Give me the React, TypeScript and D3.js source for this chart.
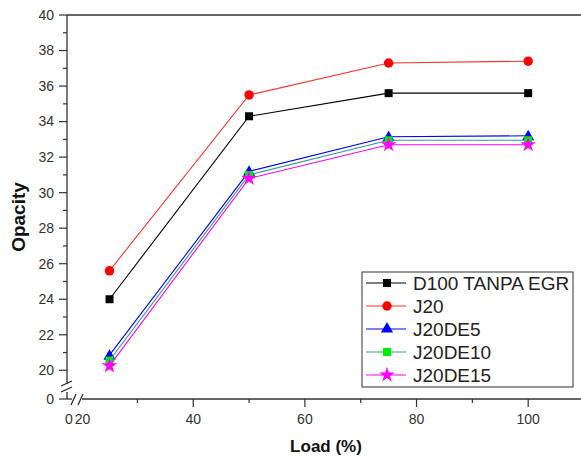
import React from "react";
import * as d3 from "d3";

const loads = [25, 50, 75, 100];
const seriesNames = ["D100 TANPA EGR", "J20", "J20DE5", "J20DE10", "J20DE15"];
const d100 = [24.0, 34.3, 35.6, 35.6];
const j20 = [25.6, 35.5, 37.3, 37.4];
const j20de5 = [20.85, 31.2, 33.15, 33.2];
const j20de10 = [20.55, 31.0, 32.95, 32.95];
const j20de15 = [20.25, 30.8, 32.7, 32.7];
const xMajorTicks = [40, 60, 80, 100];
const xMinorTicks = [30, 50, 70, 90, 110];
const yMajorTicks = [20, 22, 24, 26, 28, 30, 32, 34, 36, 38, 40];
const yMinorTicks = [21, 23, 25, 27, 29, 31, 33, 35, 37, 39];

const lineColors = ["#000000", "#ff3030", "#0000ff", "#339999", "#ff00ff"];
const markerColors = ["#000000", "#ff0000", "#0000ff", "#00ee00", "#ff00ff"];
const symbols = [d3.symbolSquare, d3.symbolCircle, d3.symbolTriangle, d3.symbolSquare, d3.symbolStar];
const symbolSizes = [64, 70, 64, 64, 75];

export default function App() {
  const values = [d100, j20, j20de5, j20de10, j20de15];
  const x = d3.scaleLinear().domain([20, 110]).range([81.6, 584]);
  const y = d3.scaleLinear().domain([20, 40]).range([370.3, 15]);
  const xZero = 67;
  const yZero = 399;
  const axisLeft = 67;
  const font = "'Liberation Sans', Arial, sans-serif";
  const line = d3
    .line<number>()
    .x((_, i) => x(loads[i]))
    .y((d) => y(d));

  return (
    <svg
      width={581}
      height={457}
      style={{ position: "absolute", left: 0, top: 0, background: "#fff" }}
      fontFamily={font}
    >
      {/* top axis */}
      <line x1={axisLeft} x2={581} y1={15} y2={15} stroke="#333" strokeWidth={1.3} />
      {/* left axis main segment */}
      <line x1={axisLeft} x2={axisLeft} y1={15} y2={384} stroke="#333" strokeWidth={1.3} />
      <line x1={axisLeft} x2={axisLeft} y1={392} y2={yZero} stroke="#333" strokeWidth={1.3} />
      {/* y break marks */}
      <line x1={61} x2={72} y1={386} y2={381} stroke="#222" strokeWidth={1.2} />
      <line x1={61} x2={72} y1={392} y2={387} stroke="#222" strokeWidth={1.2} />
      {/* bottom axis */}
      <line x1={xZero} x2={72} y1={yZero} y2={yZero} stroke="#333" strokeWidth={1.3} />
      <line x1={82} x2={581} y1={yZero} y2={yZero} stroke="#333" strokeWidth={1.3} />
      {/* x break marks */}
      <line x1={71} x2={76} y1={405} y2={394} stroke="#222" strokeWidth={1.2} />
      <line x1={78} x2={83} y1={405} y2={394} stroke="#222" strokeWidth={1.2} />
      {/* y ticks */}
      {yMajorTicks.map((t) => (
        <g key={"ym" + t}>
          <line x1={axisLeft - 8} x2={axisLeft} y1={y(t)} y2={y(t)} stroke="#333" strokeWidth={1.2} />
          <text x={axisLeft - 13} y={y(t)} dy="0.35em" textAnchor="end" fontSize={14} fill="#333">
            {t}
          </text>
        </g>
      ))}
      {yMinorTicks.map((t) => (
        <line key={"yn" + t} x1={axisLeft - 4} x2={axisLeft} y1={y(t)} y2={y(t)} stroke="#333" strokeWidth={1.2} />
      ))}
      <line x1={axisLeft - 8} x2={axisLeft} y1={yZero} y2={yZero} stroke="#333" strokeWidth={1.2} />
      <text x={axisLeft - 13} y={yZero} dy="0.35em" textAnchor="end" fontSize={14} fill="#333">
        0
      </text>
      {/* x ticks */}
      {xMajorTicks.map((t) => (
        <g key={"xm" + t}>
          <line x1={x(t)} x2={x(t)} y1={yZero} y2={yZero + 8} stroke="#333" strokeWidth={1.2} />
          <text x={x(t)} y={424} textAnchor="middle" fontSize={14} fill="#333">
            {t}
          </text>
        </g>
      ))}
      {xMinorTicks.map((t) => (
        <line key={"xn" + t} x1={x(t)} x2={x(t)} y1={yZero} y2={yZero + 4} stroke="#333" strokeWidth={1.2} />
      ))}
      <text x={xZero + 2} y={424} textAnchor="middle" fontSize={14} fill="#333">
        0
      </text>
      <text x={x(20) + 1} y={424} textAnchor="middle" fontSize={14} fill="#333">
        20
      </text>
      {/* axis titles */}
      <text
        transform={`translate(25,217) rotate(-90)`}
        textAnchor="middle"
        fontSize={19}
        fontWeight="bold"
        fill="#111"
      >
        Opacity
      </text>
      <text x={326} y={452} textAnchor="middle" fontSize={17} fontWeight="bold" fill="#111">
        Load (%)
      </text>
      {/* series */}
      {values.map((vals, si) => (
        <g key={"s" + si}>
          <path d={line(vals) || ""} fill="none" stroke={lineColors[si]} strokeWidth={1.1} />
          {vals.map((v, i) => (
            <path
              key={i}
              d={d3.symbol().type(symbols[si]).size(symbolSizes[si])() || ""}
              transform={`translate(${x(loads[i])},${y(v) + (si === 2 ? 1 : 0)})`}
              fill={markerColors[si]}
            />
          ))}
        </g>
      ))}
      {/* legend */}
      <rect x={362} y={272} width={211} height={115} fill="#fff" stroke="#333" strokeWidth={1} />
      {seriesNames.map((name, i) => {
        const cy = 283 + i * 23;
        return (
          <g key={"l" + i}>
            <line x1={366} x2={406} y1={cy} y2={cy} stroke={lineColors[i]} strokeWidth={1.1} />
            <path
              d={d3.symbol().type(symbols[i]).size(symbolSizes[i])() || ""}
              transform={`translate(387,${cy})`}
              fill={markerColors[i]}
            />
            <text x={413} y={cy} dy="0.36em" fontSize={19} fill="#222">
              {name}
            </text>
          </g>
        );
      })}
    </svg>
  );
}
